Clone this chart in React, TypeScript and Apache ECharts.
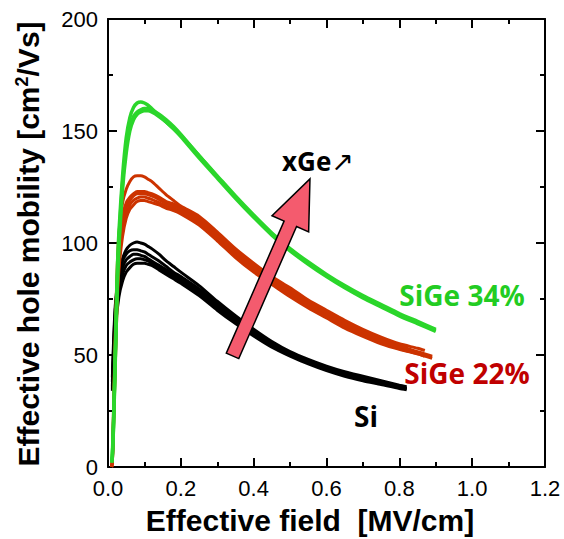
import React, { useEffect, useRef } from "react";
import * as echarts from "echarts";

// ---- data ----
const xTicks = [0, 1.2, 0.2];
const yTicks = [0, 200, 50];

const siField = [0.012, 0.015, 0.02, 0.03, 0.04, 0.05, 0.06, 0.07, 0.08, 0.09, 0.1, 0.11, 0.12, 0.14, 0.16, 0.18, 0.2, 0.25, 0.3, 0.35, 0.4, 0.45, 0.5, 0.55, 0.6, 0.65, 0.7, 0.75, 0.8, 0.82];
const si1 = [38, 52, 70, 86, 93, 97, 99, 100, 100.5, 100, 99.5, 98.5, 97.5, 95, 92, 89.5, 87, 81, 74, 67.5, 61.5, 56, 51.5, 48, 45, 42.5, 40.5, 38.5, 36.5, 35.8];
const si2 = [40, 55, 72, 86, 92, 95, 96.5, 97, 97, 96.5, 96, 95, 94, 92, 89.5, 87, 85, 79.5, 73, 66.5, 60.5, 55.5, 51, 47.5, 44.5, 42, 40, 38, 36, 35.3];
const si3 = [36, 50, 67, 82, 89, 92.5, 94, 95, 95, 94.5, 94, 93, 92, 90, 88, 86, 84, 78.5, 72, 65.5, 60, 55, 50.5, 47, 44, 41.5, 39.5, 37.5, 35.8, 35];
const si4 = [35, 48, 64, 79, 86, 90, 91.5, 92.5, 93, 93, 92.5, 92, 91, 89, 87, 85, 83, 77.5, 71, 65, 59.5, 54.5, 50, 46.5, 43.5, 41, 39, 37.2, 35.5, 34.8];
const si5 = [34, 46, 62, 76, 83, 87, 89, 90.5, 91, 91, 91, 90.5, 90, 88, 86, 84, 82, 76.5, 70, 64, 58.5, 53.5, 49.5, 46, 43, 40.5, 38.5, 36.8, 35, 34.5];

const sige22Field = [0.01, 0.012, 0.015, 0.02, 0.025, 0.03, 0.04, 0.05, 0.06, 0.07, 0.08, 0.09, 0.1, 0.11, 0.12, 0.14, 0.16, 0.18, 0.2, 0.25, 0.3, 0.35, 0.4, 0.45, 0.5, 0.55, 0.6, 0.65, 0.7, 0.75, 0.8, 0.85, 0.87, 0.89];
const r1 = [0, 4, 25, 60, 88, 104, 118, 124, 127.5, 129.5, 130, 130, 129.5, 128.5, 127.5, 124.5, 121.5, 119, 116.5, 112, 105, 97.5, 91, 85, 80, 74.5, 70, 65.5, 61.5, 58, 55, 53, 52, null];
const r2 = [0, 3, 22, 55, 82, 98, 112, 118, 120.5, 122, 123, 123, 123, 122.5, 122, 120.5, 118.5, 117.5, 116, 111, 104, 96.5, 90, 84, 79, 73.5, 69, 64.5, 60.5, 57, 54, 51.5, 50.5, 49.5];
const r3 = [0, 3, 20, 52, 79, 95, 109, 116, 119, 121, 122, 122, 122, 121.5, 121, 119.5, 117.5, 116.5, 115, 110, 103, 95.5, 89, 83, 78, 72.5, 68, 63.5, 59.8, 56.3, 53.5, 51, 50, 49];
const r4 = [0, 2, 18, 48, 75, 91, 106, 113, 117, 119, 120, 120.5, 120.5, 120, 119.5, 118, 116.5, 115.5, 114, 109, 102, 94.5, 88, 82, 77, 71.5, 67, 62.8, 59, 55.5, 52.8, 50.5, 49.5, 48.5];
const r5 = [0, 2, 16, 45, 72, 88, 103, 111, 115, 117, 118.5, 119, 119, 118.5, 118, 117, 115.5, 114.5, 113, 108, 101, 93.5, 87, 81.5, 76, 71, 66.5, 62, 58.3, 55, 52.5, 50.5, 49.5, null];

const sige34Field = [0.01, 0.012, 0.015, 0.02, 0.025, 0.03, 0.04, 0.05, 0.06, 0.07, 0.08, 0.09, 0.1, 0.11, 0.12, 0.14, 0.16, 0.18, 0.2, 0.25, 0.3, 0.35, 0.4, 0.45, 0.5, 0.55, 0.6, 0.65, 0.7, 0.75, 0.8, 0.85, 0.9];
const g1 = [2, 6, 20, 52, 85, 105, 130, 147, 156, 160.5, 162.5, 163, 162.5, 161.5, 160, 157, 154, 151, 148, 139, 130, 121, 112.5, 104.5, 97.5, 91.5, 86, 81, 76.5, 72.5, 68.5, 65, 61.5];
const g2 = [2, 5, 17, 47, 78, 98, 124, 140, 150, 155, 157.5, 158.5, 159, 159, 158.5, 156.5, 154, 151, 147.5, 138, 129, 120, 111.5, 103.5, 96.5, 90.5, 85, 80, 75.5, 71.5, 67.5, 64, 60.5];
const g3 = [2, 5, 18, 49, 80, 101, 127, 143, 152, 156.5, 158.5, 159.5, 160, 160, 159.5, 157.5, 155, 152, 148.5, 139, 129.5, 120.5, 112, 104, 97, 91, 85.5, 80.5, 76, 72, 68, 64.5, 61];

// annotation arrow (data coordinates: tail -> tip)
const arrowTail = [0.342, 49.6];
const arrowTip = [0.5546, 128.6];

const AXIS_FONT = "'Liberation Sans', Arial, sans-serif";
const LABEL_FONT = "'Open Sans', 'Noto Sans', sans-serif";

const GREEN = "#2bd62b";
const RED = "#cc3300";
const BLACK = "#000000";

function makeSeries(field: number[], vals: (number | null)[], color: string, width: number) {
  const data: number[][] = [];
  field.forEach((x, i) => {
    const v = vals[i];
    if (v !== null && v !== undefined) data.push([x, v]);
  });
  return {
    type: "line",
    xAxisIndex: 0,
    yAxisIndex: 0,
    data,
    symbol: "none",
    showSymbol: false,
    smooth: 0.25,
    silent: true,
    lineStyle: { color, width },
  };
}

function axisCommon(showLabel: boolean, fmt: (v: number) => string) {
  return {
    axisLine: { show: true, onZero: false, lineStyle: { color: "#000", width: 2 } },
    axisTick: { show: true, inside: true, length: 9, lineStyle: { color: "#000", width: 2 } },
    minorTick: { show: true, splitNumber: 2, length: 5, lineStyle: { color: "#000", width: 2 } },
    splitLine: { show: false },
    axisLabel: {
      show: showLabel,
      fontSize: 22,
      color: "#000",
      margin: 10,
      fontFamily: AXIS_FONT,
      formatter: fmt,
    },
  };
}

export default function App() {
  const ref = useRef<HTMLDivElement>(null);

  useEffect(() => {
    document.body.style.margin = "0";
    if (!ref.current) return;
    const chart = echarts.init(ref.current, null, { renderer: "svg" });
    const xf = (v: number) => v.toFixed(1);
    const yf = (v: number) => String(Math.round(v));

    const series: any[] = [];
    [si5, si4, si3, si2, si1].forEach((s) => series.push(makeSeries(siField, s, BLACK, 3)));
    [r5, r4, r3, r2, r1].forEach((s) => series.push(makeSeries(sige22Field, s, RED, 3)));
    [g2, g3, g1].forEach((s) => series.push(makeSeries(sige34Field, s, GREEN, 3.5)));

    const option: any = {
      animation: false,
      grid: { left: 108, right: 19, top: 19, bottom: 72 },
      xAxis: [
        { type: "value", position: "bottom", min: xTicks[0], max: xTicks[1], interval: xTicks[2], ...axisCommon(true, xf) },
        { type: "value", position: "top", min: xTicks[0], max: xTicks[1], interval: xTicks[2], ...axisCommon(false, xf) },
      ],
      yAxis: [
        { type: "value", position: "left", min: yTicks[0], max: yTicks[1], interval: yTicks[2], ...axisCommon(true, yf) },
        { type: "value", position: "right", min: yTicks[0], max: yTicks[1], interval: yTicks[2], ...axisCommon(false, yf) },
      ],
      series,
    };
    chart.setOption(option);

    const tail = chart.convertToPixel({ xAxisIndex: 0, yAxisIndex: 0 }, arrowTail) as number[];
    const tip = chart.convertToPixel({ xAxisIndex: 0, yAxisIndex: 0 }, arrowTip) as number[];
    const dx = tip[0] - tail[0];
    const dy = tip[1] - tail[1];
    const len = Math.sqrt(dx * dx + dy * dy);
    const ux = dx / len, uy = dy / len;
    const nx = -uy, ny = ux;
    const headLen = 49, headHalf = 20, shaftHalf = 6.8;
    const bx = tip[0] - ux * headLen, by = tip[1] - uy * headLen;
    const pts = [
      [tip[0], tip[1]],
      [bx + nx * headHalf, by + ny * headHalf],
      [bx + nx * shaftHalf, by + ny * shaftHalf],
      [tail[0] + nx * shaftHalf, tail[1] + ny * shaftHalf],
      [tail[0] - nx * shaftHalf, tail[1] - ny * shaftHalf],
      [bx - nx * shaftHalf, by - ny * shaftHalf],
      [bx - nx * headHalf, by - ny * headHalf],
    ];

    chart.setOption({
      graphic: [
        {
          type: "polygon",
          z: 100,
          shape: { points: pts },
          style: { fill: "#f45b6e", stroke: "#000", lineWidth: 1.5 },
        },
        {
          type: "text",
          z: 100,
          x: 28,
          y: 244,
          rotation: Math.PI / 2,
          style: {
            text: "Effective hole mobility [cm{sup|2}/Vs]",
            fill: "#000",
            fontSize: 30,
            fontWeight: "bold",
            fontFamily: AXIS_FONT,
            align: "center",
            verticalAlign: "middle",
            rich: {
              sup: { fontSize: 18, fontWeight: "bold", fontFamily: AXIS_FONT, verticalAlign: "top", fill: "#000" },
            },
          },
        },
        {
          type: "text",
          z: 100,
          x: 310,
          y: 520,
          style: {
            text: "Effective field  [MV/cm]",
            fill: "#000",
            fontSize: 30,
            fontWeight: "bold",
            fontFamily: AXIS_FONT,
            align: "center",
            verticalAlign: "middle",
          },
        },
        {
          type: "text",
          z: 100,
          x: 462,
          y: 295,
          style: { text: "SiGe 34%", fill: "#22cc22", fontSize: 28, fontWeight: "bold", fontFamily: LABEL_FONT, align: "center", verticalAlign: "middle" },
        },
        {
          type: "text",
          z: 100,
          x: 467,
          y: 373,
          style: { text: "SiGe 22%", fill: "#c00000", fontSize: 28, fontWeight: "bold", fontFamily: LABEL_FONT, align: "center", verticalAlign: "middle" },
        },
        {
          type: "text",
          z: 100,
          x: 366,
          y: 416,
          style: { text: "Si", fill: "#000", fontSize: 28, fontWeight: "bold", fontFamily: LABEL_FONT, align: "center", verticalAlign: "middle" },
        },
        {
          type: "text",
          z: 100,
          x: 318,
          y: 161,
          style: {
            text: "xGe{a|↗}",
            fill: "#000",
            fontSize: 26,
            fontWeight: "bold",
            fontFamily: LABEL_FONT,
            align: "center",
            verticalAlign: "middle",
            rich: { a: { fontSize: 27, fontWeight: "normal", fontFamily: "'DejaVu Sans', sans-serif", fill: "#000" } },
          },
        },
      ],
    });

    return () => chart.dispose();
  }, []);

  return <div ref={ref} style={{ width: 564, height: 539 }} />;
}
